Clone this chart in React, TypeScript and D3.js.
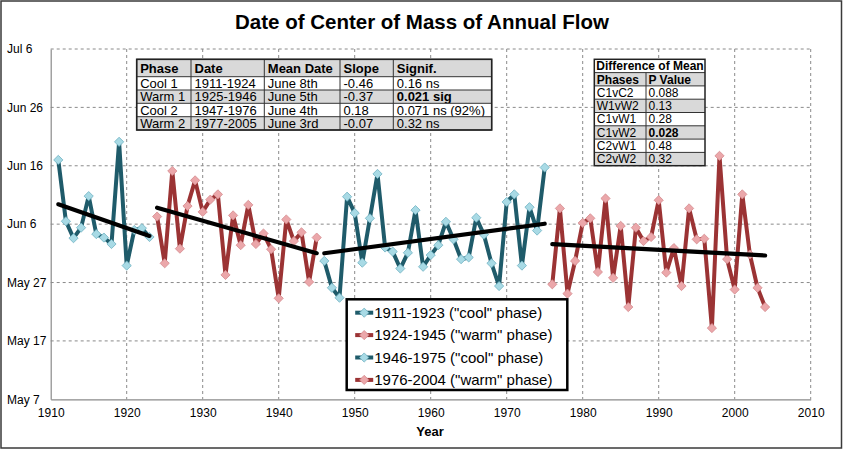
import React, { useEffect, useRef } from 'react';
import * as d3 from 'd3';

const WIDTH = 844;
const HEIGHT = 450;
const FONT = '"Liberation Sans", Arial, sans-serif';

// y axis is day-of-year (non-leap): May 7 = 127 ... Jul 6 = 187
const dayTicks = [127, 137, 147, 157, 167, 177, 187];
const dayTickLabels = ['May 7', 'May 17', 'May 27', 'Jun 6', 'Jun 16', 'Jun 26', 'Jul 6'];
const yearTicks = [1910, 1920, 1930, 1940, 1950, 1960, 1970, 1980, 1990, 2000, 2010];

// center-of-mass date (day of year) per water year, split by PDO phase
const cool1Start = 1911;
const cool1Days = [168.0, 157.5, 154.6, 156.4, 161.8, 155.3, 154.7, 153.6, 171.1, 149.9, 156.0, 156.3, 154.8];

const warm1Start = 1924;
const warm1Days = [
  158.3, 150.3, 166.1, 152.8, 160.1, 164.5, 159.1, 161.2, 162.1, 148.3, 158.5,
  153.4, 160.3, 153.6, 155.4, 152.7, 144.3, 157.8, 154.1, 155.6, 147.1, 154.7,
];

const cool2Start = 1946;
const cool2Days = [
  150.7, 146.1, 144.4, 161.7, 158.9, 150.4, 158.0, 165.6, 153.0, 152.3,
  149.4, 152.1, 159.4, 149.7, 151.7, 153.4, 157.4, 154.4, 151.0, 151.3,
  158.1, 155.2, 150.3, 146.4, 160.8, 162.1, 149.9, 159.9, 155.9, 166.7,
];

const warm2Start = 1976;
const warm2Days = [
  146.7, 159.7, 145.1, 150.7, 157.2, 158.0, 148.8, 161.4, 147.8, 156.7,
  142.8, 156.4, 154.1, 154.8, 161.1, 148.7, 152.9, 146.4, 159.7, 154.4,
  154.5, 139.2, 168.7, 151.0, 145.8, 162.1, 151.8, 146.1, 142.8,
];

const legendLabels = [
  '1911-1923 ("cool" phase)',
  '1924-1945 ("warm" phase)',
  '1946-1975 ("cool" phase)',
  '1976-2004 ("warm" phase)',
];

const phaseHeaders = ['Phase', 'Date', 'Mean Date', 'Slope', 'Signif.'];
const phaseRows = [
  ['Cool 1', '1911-1924', 'June 8th', '-0.46', '0.16 ns'],
  ['Warm 1', '1925-1946', 'June 5th', '-0.37', '0.021 sig'],
  ['Cool 2', '1947-1976', 'June 4th', '0.18', '0.071 ns (92%)'],
  ['Warm 2', '1977-2005', 'June 3rd', '-0.07', '0.32 ns'],
];

const diffTitle = 'Difference of Mean';
const diffHeaders = ['Phases', 'P Value'];
const diffRows = [
  ['C1vC2', '0.088'],
  ['W1vW2', '0.13'],
  ['C1vW1', '0.28'],
  ['C1vW2', '0.028'],
  ['C2vW1', '0.48'],
  ['C2vW2', '0.32'],
];

type Kind = 'cool' | 'warm';
interface Point { year: number; day: number }

const phases: { kind: Kind; points: Point[] }[] = [
  { kind: 'cool', points: cool1Days.map((day, i) => ({ year: cool1Start + i, day })) },
  { kind: 'warm', points: warm1Days.map((day, i) => ({ year: warm1Start + i, day })) },
  { kind: 'cool', points: cool2Days.map((day, i) => ({ year: cool2Start + i, day })) },
  { kind: 'warm', points: warm2Days.map((day, i) => ({ year: warm2Start + i, day })) },
];

const palette = {
  cool: { line: '#1f5b6a', fill: '#a8dae5', edge: '#6fb1c2' },
  warm: { line: '#9b3334', fill: '#eba7aa', edge: '#d48a8e' },
};

// least-squares trend through one phase
function fitTrend(points: Point[]): Point[] {
  const mx = d3.mean(points, p => p.year) as number;
  const my = d3.mean(points, p => p.day) as number;
  const sxy = d3.sum(points, p => (p.year - mx) * (p.day - my));
  const sxx = d3.sum(points, p => (p.year - mx) ** 2);
  const slope = sxy / sxx;
  const ends = d3.extent(points, p => p.year) as [number, number];
  return ends.map(year => ({ year, day: my + slope * (year - mx) }));
}

const diamond = (r: number) => `M0,${-r}L${r},0L0,${r}L${-r},0Z`;

export default function App() {
  const svgRef = useRef<SVGSVGElement>(null);

  useEffect(() => {
    if (!svgRef.current) return;
    const svg = d3.select(svgRef.current);
    svg.selectAll('*').remove();

    const plot = { left: 50.7, top: 49, right: 810.7, bottom: 399.3 };

    const x = d3.scaleLinear().domain([1910, 2010]).range([plot.left, plot.right]);
    const y = d3.scaleLinear().domain([127, 187]).range([plot.bottom, plot.top]);

    svg.append('rect')
      .attr('width', WIDTH).attr('height', HEIGHT).attr('fill', '#ffffff');

    // outer chart frame
    svg.append('rect')
      .attr('x', 1).attr('y', 1).attr('width', 840.5).attr('height', 447)
      .attr('fill', 'none').attr('stroke', '#3a3a3a').attr('stroke-width', 1.5);

    svg.append('text')
      .attr('x', 422).attr('y', 29)
      .attr('text-anchor', 'middle')
      .style('font-family', FONT).style('font-size', '20.5px').style('font-weight', 'bold')
      .text('Date of Center of Mass of Annual Flow');

    // dashed gridlines
    const grid = svg.append('g').attr('stroke', '#8a8a8a').attr('stroke-width', 1)
      .attr('stroke-dasharray', '3,3');
    grid.selectAll('line.v')
      .data(yearTicks.slice(1))
      .enter().append('line')
      .attr('class', 'v')
      .attr('x1', d => x(d)).attr('x2', d => x(d))
      .attr('y1', plot.top).attr('y2', plot.bottom);
    grid.selectAll('line.h')
      .data(dayTicks.slice(1))
      .enter().append('line')
      .attr('class', 'h')
      .attr('x1', plot.left).attr('x2', plot.right)
      .attr('y1', d => y(d)).attr('y2', d => y(d));

    // axes
    const xAxis = svg.append('g')
      .attr('transform', `translate(0, ${plot.bottom})`)
      .call(d3.axisBottom(x).tickValues(yearTicks).tickFormat(d3.format('d')).tickSize(0).tickPadding(9));
    xAxis.select('.domain').attr('stroke', '#8a8a8a').attr('stroke-width', 1.2);
    xAxis.selectAll('text')
      .style('font-family', FONT).style('font-size', '12px').attr('fill', '#000');

    const yAxis = svg.append('g')
      .attr('transform', `translate(${plot.left}, 0)`)
      .call(d3.axisLeft(y).tickValues(dayTicks).tickFormat((_, i) => dayTickLabels[i]).tickSize(0));
    yAxis.select('.domain').attr('stroke', '#8a8a8a').attr('stroke-width', 1.2);
    yAxis.selectAll('text')
      .attr('text-anchor', 'start')
      .attr('x', 7 - plot.left)
      .style('font-family', FONT).style('font-size', '12px').attr('fill', '#000');

    svg.append('text')
      .attr('x', 430).attr('y', 436)
      .attr('text-anchor', 'middle')
      .style('font-family', FONT).style('font-size', '13px').style('font-weight', 'bold')
      .text('Year');

    // phase series
    const line = d3.line<Point>().x(d => x(d.year)).y(d => y(d.day));
    const series = svg.append('g');
    phases.forEach(phase => {
      const c = palette[phase.kind];
      series.append('path')
        .datum(phase.points)
        .attr('d', line)
        .attr('fill', 'none')
        .attr('stroke', c.line)
        .attr('stroke-width', 4)
        .attr('stroke-linejoin', 'round');
      series.append('g').selectAll('path')
        .data(phase.points)
        .enter().append('path')
        .attr('transform', d => `translate(${x(d.year)}, ${y(d.day)})`)
        .attr('d', diamond(4.6))
        .attr('fill', c.fill)
        .attr('stroke', c.edge)
        .attr('stroke-width', 0.8);
    });

    // linear trend per phase
    phases.forEach(phase => {
      svg.append('path')
        .datum(fitTrend(phase.points))
        .attr('d', line)
        .attr('fill', 'none')
        .attr('stroke', '#000')
        .attr('stroke-width', 4.2)
        .attr('stroke-linecap', 'round');
    });

    // phase summary table
    const t1 = svg.append('g');
    const t1Cols = [136.7, 191, 264.3, 340, 393.3, 491.7];
    const t1RowTops = [59.3, 76.7, 90, 103.3, 116.7, 130];
    const t1Rows = [phaseHeaders, ...phaseRows];
    t1Rows.forEach((row, r) => {
      const top = t1RowTops[r];
      const h = t1RowTops[r + 1] - top;
      t1.append('rect')
        .attr('x', t1Cols[0]).attr('y', top)
        .attr('width', t1Cols[5] - t1Cols[0]).attr('height', h)
        .attr('fill', r % 2 === 0 ? '#d9d9d9' : '#ffffff');
      row.forEach((cell, c) => {
        const bold = r === 0 || (r === 2 && c === 4);
        t1.append('text')
          .attr('x', t1Cols[c] + 3.5).attr('y', top + h / 2 + 4.6)
          .style('font-family', FONT).style('font-size', '13px')
          .style('font-weight', bold ? 'bold' : 'normal')
          .text(cell);
      });
    });
    t1.selectAll('line.row')
      .data(t1RowTops)
      .enter().append('line')
      .attr('x1', t1Cols[0]).attr('x2', t1Cols[5])
      .attr('y1', d => d).attr('y2', d => d)
      .attr('stroke', '#333').attr('stroke-width', 1);
    t1.selectAll('line.col')
      .data(t1Cols)
      .enter().append('line')
      .attr('y1', t1RowTops[0]).attr('y2', t1RowTops[5])
      .attr('x1', d => d).attr('x2', d => d)
      .attr('stroke', '#333').attr('stroke-width', 1);
    t1.append('rect')
      .attr('x', t1Cols[0]).attr('y', t1RowTops[0])
      .attr('width', t1Cols[5] - t1Cols[0]).attr('height', t1RowTops[5] - t1RowTops[0])
      .attr('fill', 'none').attr('stroke', '#222').attr('stroke-width', 1.6);

    // difference-of-mean table
    const t2 = svg.append('g');
    const t2Cols = [594.3, 646, 705];
    const t2Top = 59.3;
    const t2RowH = 13.3;
    const t2Body = [diffHeaders, ...diffRows];
    const t2Bottom = t2Top + t2RowH * (t2Body.length + 1);
    t2.append('rect')
      .attr('x', t2Cols[0]).attr('y', t2Top)
      .attr('width', t2Cols[2] - t2Cols[0]).attr('height', t2RowH)
      .attr('fill', '#ffffff');
    t2.append('text')
      .attr('x', t2Cols[0] + 2).attr('y', t2Top + t2RowH / 2 + 4.2)
      .style('font-family', FONT).style('font-size', '12px').style('font-weight', 'bold')
      .text(diffTitle);
    t2Body.forEach((row, r) => {
      const top = t2Top + t2RowH * (r + 1);
      t2.append('rect')
        .attr('x', t2Cols[0]).attr('y', top)
        .attr('width', t2Cols[2] - t2Cols[0]).attr('height', t2RowH)
        .attr('fill', r % 2 === 0 ? '#d9d9d9' : '#ffffff');
      row.forEach((cell, c) => {
        const bold = r === 0 || (c === 1 && cell === '0.028');
        t2.append('text')
          .attr('x', t2Cols[c] + 2.5).attr('y', top + t2RowH / 2 + 4.3)
          .style('font-family', FONT).style('font-size', '12px')
          .style('font-weight', bold ? 'bold' : 'normal')
          .text(cell);
      });
      t2.append('line')
        .attr('x1', t2Cols[0]).attr('x2', t2Cols[2])
        .attr('y1', top).attr('y2', top)
        .attr('stroke', '#333').attr('stroke-width', 1);
    });
    t2.append('line')
      .attr('x1', t2Cols[1]).attr('x2', t2Cols[1])
      .attr('y1', t2Top + t2RowH).attr('y2', t2Bottom)
      .attr('stroke', '#333').attr('stroke-width', 1);
    t2.append('rect')
      .attr('x', t2Cols[0]).attr('y', t2Top)
      .attr('width', t2Cols[2] - t2Cols[0]).attr('height', t2Bottom - t2Top)
      .attr('fill', 'none').attr('stroke', '#222').attr('stroke-width', 1.5);

    // legend
    const legend = svg.append('g').attr('transform', 'translate(346.7, 299.3)');
    legend.append('rect')
      .attr('width', 220.6).attr('height', 90.7)
      .attr('fill', '#ffffff').attr('stroke', '#000').attr('stroke-width', 2.5);
    const entry = legend.selectAll('g.entry')
      .data(legendLabels)
      .enter().append('g')
      .attr('class', 'entry')
      .attr('transform', (_, i) => `translate(0, ${13.4 + i * 22.4})`);
    entry.append('line')
      .attr('x1', 8.5).attr('x2', 26.5)
      .attr('stroke', (_, i) => palette[phases[i].kind].line)
      .attr('stroke-width', 4);
    entry.append('path')
      .attr('transform', 'translate(17.5, 0)')
      .attr('d', diamond(4.6))
      .attr('fill', (_, i) => palette[phases[i].kind].fill)
      .attr('stroke', (_, i) => palette[phases[i].kind].edge)
      .attr('stroke-width', 0.8);
    entry.append('text')
      .attr('x', 27.5).attr('y', 5.3)
      .style('font-family', FONT).style('font-size', '15px')
      .text(d => d);
  }, []);

  return (
    <div style={{ position: 'absolute', left: 0, top: 0, width: WIDTH, height: HEIGHT }}>
      <svg ref={svgRef} width={WIDTH} height={HEIGHT} style={{ display: 'block' }} />
    </div>
  );
}
